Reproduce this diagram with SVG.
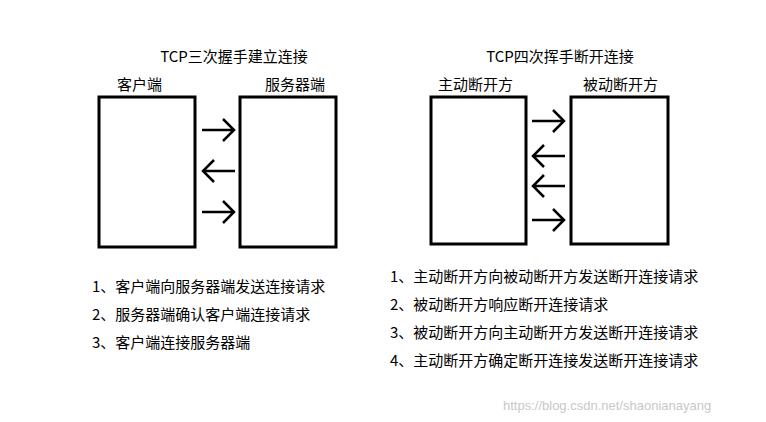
<svg xmlns="http://www.w3.org/2000/svg" width="766" height="422" viewBox="0 0 766 422">
<style>
text{font-family:"Noto Sans CJK SC",sans-serif;font-size:15px;fill:#000}
.box{fill:#fff;stroke:#000;stroke-width:3}
.arr{fill:none;stroke:#000;stroke-width:2.5}
.wm{font-family:"Liberation Sans",sans-serif;font-size:13px;fill:#c8c8c8}
</style>
<rect width="766" height="422" fill="#fff"/>
<text x="234" y="62" text-anchor="middle">TCP三次握手建立连接</text>
<text x="560" y="62" text-anchor="middle">TCP四次挥手断开连接</text>
<g id="client"><rect class="box" x="99" y="97" width="96" height="150"/><text x="117" y="90">客户端</text></g>
<g id="server"><rect class="box" x="240" y="97" width="96" height="150"/><text x="265" y="90">服务器端</text></g>
<g id="active"><rect class="box" x="431" y="97" width="95" height="147"/><text x="438" y="90">主动断开方</text></g>
<g id="passive"><rect class="box" x="571" y="97" width="97" height="147"/><text x="583" y="90">被动断开方</text></g>
<g id="connectors" class="arr">
<path d="M202 130H234M223 119L234 130L223 141"/>
<path d="M235 171H203M214 160L203 171L214 182"/>
<path d="M202 212H234M223 201L234 212L223 223"/>
<path d="M532 121H564M553 110L564 121L553 132"/>
<path d="M565 156H533M544 145L533 156L544 167"/>
<path d="M565 186H533M544 175L533 186L544 197"/>
<path d="M532 220H564M553 209L564 220L553 231"/>
</g>
<text x="92" y="292">1、客户端向服务器端发送连接请求</text>
<text x="92" y="320">2、服务器端确认客户端连接请求</text>
<text x="92" y="348">3、客户端连接服务器端</text>
<text x="390" y="282">1、主动断开方向被动断开方发送断开连接请求</text>
<text x="390" y="310">2、被动断开方响应断开连接请求</text>
<text x="390" y="338">3、被动断开方向主动断开方发送断开连接请求</text>
<text x="390" y="366">4、主动断开方确定断开连接发送断开连接请求</text>
<text class="wm" x="503" y="410">https://blog.csdn.net/shaonianayang</text>
</svg>
